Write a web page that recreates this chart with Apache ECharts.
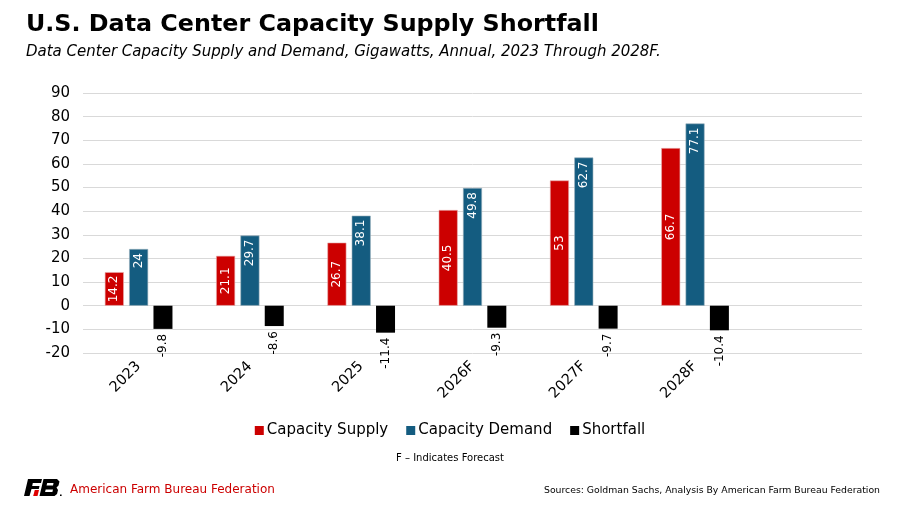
<!DOCTYPE html>
<html>
<head>
<meta charset="utf-8">
<script src="https://cdn.jsdelivr.net/npm/echarts@6/dist/echarts.min.js"></script>
<style>
  html, body { margin: 0; padding: 0; background: #fff; }
  #chart { width: 900px; height: 506px; }
</style>
</head>
<body>
<div id="chart"></div>
<script>
// 数据
var years = ['2023', '2024', '2025', '2026F', '2027F', '2028F'];
var supply = [14.2, 21.1, 26.7, 40.5, 53, 66.7];
var demand = [24, 29.7, 38.1, 49.8, 62.7, 77.1];
var shortfall = [-9.8, -8.6, -11.4, -9.3, -9.7, -10.4];

var FONT = '"DejaVu Sans", Verdana, sans-serif';

(function () {
    var myChart = echarts.init(document.getElementById('chart'));

    // 右侧留一个空类目, 网格线延伸过去
    var cats = years.concat(['']);

    function lbl(pos, color, extra) {
        var o = {
            show: true,
            position: pos,
            rotate: 90,
            color: color,
            fontFamily: FONT,
            fontSize: 12
        };
        for (var k in extra) o[k] = extra[k];
        return o;
    }

    var option = {
        animation: false,
        title: [{
            text: 'U.S. Data Center Capacity Supply Shortfall',
            left: 21,
            top: 8,
            textStyle: { fontFamily: FONT, fontWeight: 'bold', fontSize: 23.8, color: '#000' }
        }, {
            text: 'Data Center Capacity Supply and Demand, Gigawatts, Annual, 2023 Through 2028F.',
            left: 21,
            top: 40,
            textStyle: { fontFamily: FONT, fontStyle: 'italic', fontWeight: 'normal', fontSize: 15, color: '#000' }
        }],
        legend: {
            top: 418,
            left: 'center',
            itemWidth: 9,
            itemHeight: 9,
            itemGap: 18,
            icon: 'rect',
            itemStyle: { borderWidth: 0 },
            textStyle: { fontFamily: FONT, fontSize: 15, color: '#000', padding: [0, 0, 0, -2] },
            data: ['Capacity Supply', 'Capacity Demand', 'Shortfall']
        },
        grid: {
            left: 83,
            right: 38,
            top: 93,
            bottom: 153,
            containLabel: false
        },
        xAxis: {
            type: 'category',
            data: cats,
            axisLine: { show: false },
            axisTick: { show: false },
            axisLabel: {
                rotate: 45,
                interval: 0,
                margin: 11,
                color: '#000',
                fontFamily: FONT,
                fontSize: 14.5
            }
        },
        yAxis: {
            type: 'value',
            min: -20,
            max: 90,
            interval: 10,
            axisLine: { show: false },
            axisTick: { show: false },
            splitLine: { lineStyle: { color: '#d9d9d9', width: 1 } },
            axisLabel: { color: '#000', fontFamily: FONT, fontSize: 15, margin: 13 }
        },
        series: [{
            name: 'Capacity Supply',
            type: 'bar',
            barWidth: 19,
            barGap: '28%',
            data: supply,
            itemStyle: { color: '#cc0000', borderColor: '#e8b0b0', borderWidth: 0.6 },
            label: lbl('inside', '#fff', { align: 'center', verticalAlign: 'middle' })
        }, {
            name: 'Capacity Demand',
            type: 'bar',
            barWidth: 19,
            barGap: '28%',
            data: demand,
            itemStyle: { color: '#145c80', borderColor: '#9ab0bc', borderWidth: 0.6 },
            label: lbl('insideTop', '#fff', { align: 'right', verticalAlign: 'middle', distance: 4 })
        }, {
            name: 'Shortfall',
            type: 'bar',
            barWidth: 19,
            barGap: '28%',
            data: shortfall,
            itemStyle: { color: '#000' },
            label: lbl('outside', '#000', { align: 'right', verticalAlign: 'middle', distance: 5 })
        }],
        graphic: [{
            type: 'text',
            left: 'center',
            top: 453,
            style: { text: 'F – Indicates Forecast', fontFamily: FONT, fontSize: 10, fill: '#000' }
        }, {
            type: 'text',
            right: 20,
            top: 486,
            style: { text: 'Sources: Goldman Sachs, Analysis By American Farm Bureau Federation', fontFamily: FONT, fontSize: 9.3, fill: '#000' }
        }, {
            // 简化的 FB 标志
            type: 'group',
            left: 24,
            top: 479,
            children: [{
                type: 'polygon',
                shape: { points: [[4, 0], [18, 0], [17, 4], [8.8, 4], [8.2, 7], [15.5, 7], [14.8, 10], [7.5, 10], [5.5, 17], [0, 17]] },
                style: { fill: '#000' }
            }, {
                type: 'polygon',
                shape: { points: [[10.8, 11], [15, 11], [13.5, 17], [9.2, 17]] },
                style: { fill: '#e00000' }
            }, {
                type: 'polygon',
                shape: { points: [[19.5, 0], [33, 0], [35.5, 2.5], [34.5, 6.5], [32.5, 8.5], [34, 11], [33, 15], [30.5, 17], [15.5, 17]] },
                style: { fill: '#000' }
            }, {
                type: 'polygon',
                shape: { points: [[23.2, 4], [29.5, 4], [29, 6.5], [22.6, 6.5]] },
                style: { fill: '#fff' }
            }, {
                type: 'polygon',
                shape: { points: [[21.7, 10.5], [29, 10.5], [28.4, 13], [21.1, 13]] },
                style: { fill: '#fff' }
            }, {
                type: 'rect',
                shape: { x: 36, y: 15.5, width: 1.6, height: 1.6 },
                style: { fill: '#000' }
            }, {
                type: 'text',
                x: 46,
                y: 5,
                style: { text: 'American Farm Bureau Federation', fontFamily: FONT, fontSize: 12, fill: '#cc0000' }
            }]
        }]
    };
    myChart.setOption(option);
})();
</script>
</body>
</html>
